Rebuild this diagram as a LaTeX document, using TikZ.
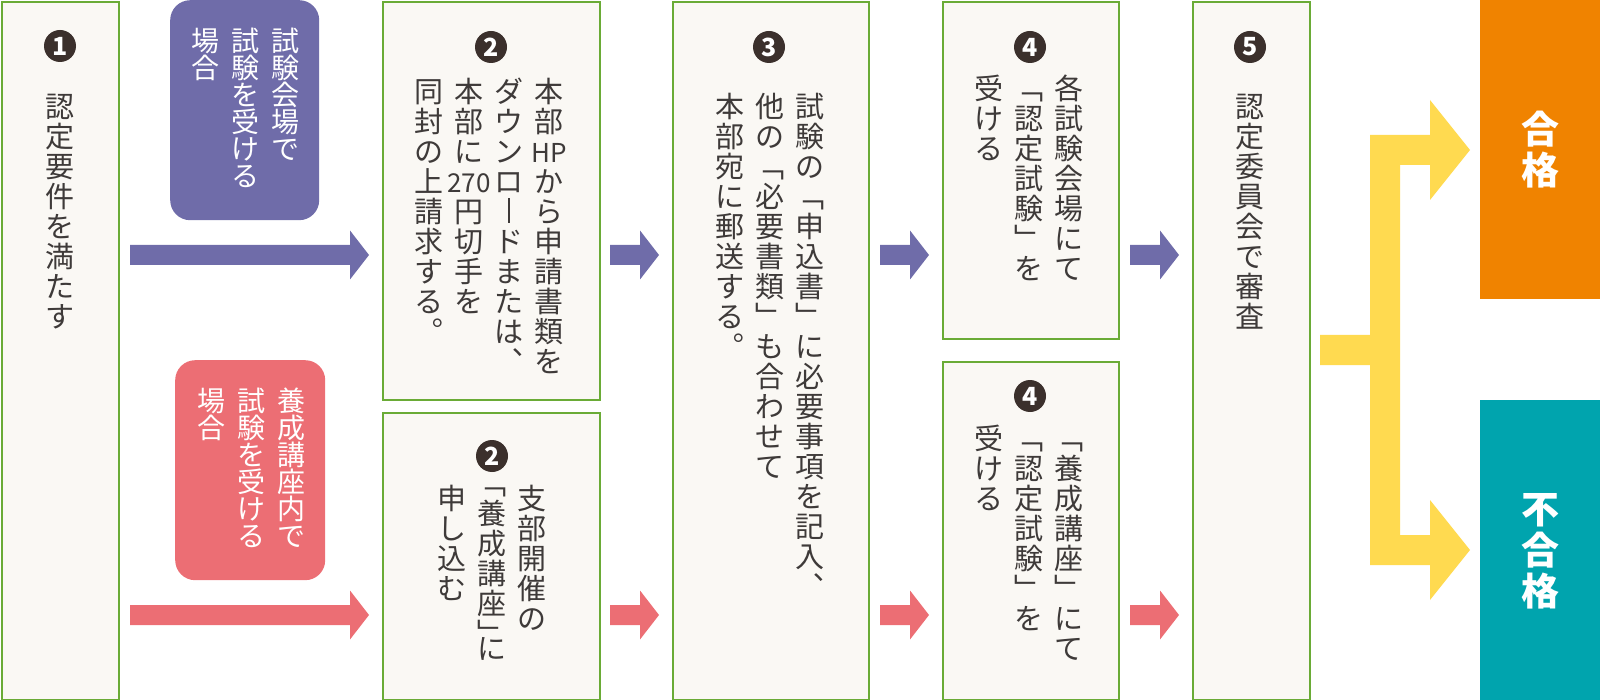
\documentclass[tikz,border=0pt]{standalone}
\usepackage{fontspec}
\newfontfamily\jp{Noto Sans CJK JP}
\usetikzlibrary{calc}
\definecolor{grn}{HTML}{6AAB36}
\definecolor{boxbg}{HTML}{FAF8F4}
\definecolor{purp}{HTML}{6F6CA9}
\definecolor{pnk}{HTML}{EC6E74}
\definecolor{ylw}{HTML}{FFDA50}
\definecolor{orng}{HTML}{F08300}
\definecolor{tealc}{HTML}{00A4AE}
\definecolor{txtc}{HTML}{3E3A39}
\definecolor{numc}{HTML}{3B302C}
\newlength\tpitch \setlength\tpitch{30pt}
\newlength\tchw \setlength\tchw{40pt}
\makeatletter
\def\tsq{\tsq@marker}
\def\tcol#1{\vtop{\baselineskip=\tpitch\lineskiplimit=-\maxdimen\lineskip=0pt\tcol@a#1\relax}}
\def\tcol@a#1{\ifx\relax#1\else\ifx\tsq#1\vskip-.5\tpitch\else\hbox to\tchw{\hss\vrule height .88em depth .12em width 0pt\relax#1\hss}\fi\expandafter\tcol@a\fi}
\makeatother
\newcommand\tcy[1]{{\fontsize{26}{26}\selectfont #1}}
\newcommand\vchoon{\hbox to 1em{\hss\vrule width .07em height .84em depth .02em\hss}}
\newcommand\vlq{\smash{\raise.5em\hbox{﹁}}}
\newcommand\blockarrow[3]{%
  \fill[#3] let \p1=(#1), \p2=(#2) in
   (\x1,\y1+10pt) -- (\x2-19pt,\y1+10pt) -- (\x2-19pt,\y1+24.5pt) -- (\x2,\y1) --
   (\x2-19pt,\y1-24.5pt) -- (\x2-19pt,\y1-10pt) -- (\x1,\y1-10pt) -- cycle;}
\begin{document}
\begin{tikzpicture}[x=1pt,y=-1pt,
  box/.style={draw=grn, line width=2.4pt, fill=boxbg, anchor=north west, inner sep=0pt},
  pill/.style={rounded corners=20pt, anchor=north west, inner sep=0pt},
  num/.style={circle, fill=numc, text=white, minimum size=32pt, inner sep=0pt,
    font=\jp\bfseries\fontsize{25}{25}\selectfont},
  tx/.style={inner sep=0pt, anchor=north, text=txtc, font=\jp\fontsize{29}{30}\selectfont},
  ptx/.style={inner sep=0pt, anchor=north, text=white, font=\jp\fontsize{28}{27}\selectfont,
    execute at begin node={\setlength\tpitch{27pt}}},
  res/.style={anchor=north west, inner sep=0pt, text=white,
    font=\jp\bfseries\fontsize{38}{41}\selectfont,
    execute at begin node={\setlength\tpitch{41pt}}}]
\useasboundingbox (0,0) rectangle (1600,700);
% boxes
\node[box, minimum width=117pt, minimum height=698pt] (b1) at (1,1) {};
\node[box, minimum width=217pt, minimum height=397.5pt] (b2a) at (382,1) {};
\node[box, minimum width=217pt, minimum height=287pt] (b2b) at (382,411.5) {};
\node[box, minimum width=196pt, minimum height=698pt] (b3) at (672,1) {};
\node[box, minimum width=176pt, minimum height=337pt] (b4a) at (942,1) {};
\node[box, minimum width=176pt, minimum height=338pt] (b4b) at (942,361) {};
\node[box, minimum width=117pt, minimum height=698pt] (b5) at (1192,1) {};
% pills
\node[pill, fill=purp, minimum width=149pt, minimum height=220pt] (pp) at (170,0) {};
\node[pill, fill=pnk, minimum width=150pt, minimum height=220pt] (pk) at (175,360) {};
% results
\node[res, fill=orng, minimum width=120pt, minimum height=299pt] (pass) at (1480,0) {\tcol{合格}};
\node[res, fill=tealc, minimum width=120pt, minimum height=300pt] (fail) at (1480,400) {\tcol{不合格}};
% numbers
\node[num] (n1) at (60,46) {1};
\node[num] (n2a) at (491,47) {2};
\node[num] (n2b) at (492,456) {2};
\node[num] (n3) at (769,47) {3};
\node[num] (n4a) at (1030,47) {4};
\node[num] (n4b) at (1030,396) {4};
\node[num] (n5) at (1250,47) {5};
% texts
\node[tx] (t1) at (59.5,91.5) {\tcol{認定要件を満たす}};
\node[tx] (t2a) at (489,76.5) {\tcol{同封の上請求する︒}\tcol{本部に{\tcy{270}}円切手を}\tcol{ダウンロ\vchoon ドまたは︑}\tcol{本部{\tcy{HP}}から申請書類を}};
\node[tx] (t2b) at (492,483.5) {\tcol{申し込む}\tcol{\vlq\tsq 養成講座﹂\tsq に}\tcol{支部開催の}};
\node[tx] (t3) at (770,91.5) {\tcol{本部宛に郵送する︒}\tcol{他の﹁必要書類﹂も合わせて}\tcol{試験の﹁申込書﹂に必要事項を記入︑}};
\node[tx] (t4a) at (1028.5,73.5) {\tcol{受ける}\tcol{﹁認定試験﹂を}\tcol{各試験会場にて}};
\node[tx] (t4b) at (1028.5,423.5) {\tcol{受ける}\tcol{﹁認定試験﹂を}\tcol{﹁養成講座﹂にて}};
\node[tx] (t5) at (1250,91.5) {\tcol{認定委員会で審査}};
\node[ptx] (tp) at (245,26.5) {\tcol{場合}\tcol{試験を受ける}\tcol{試験会場で}};
\node[ptx] (tk) at (251,386.5) {\tcol{場合}\tcol{試験を受ける}\tcol{養成講座内で}};
% arrows
\coordinate (p1s) at (130,255); \coordinate (p1e) at (369,255);
\coordinate (p2s) at (610,255); \coordinate (p2e) at (659,255);
\coordinate (p3s) at (880,255); \coordinate (p3e) at (929,255);
\coordinate (p4s) at (1130,255); \coordinate (p4e) at (1179,255);
\coordinate (k1s) at (130,615); \coordinate (k1e) at (369,615);
\coordinate (k2s) at (610,615); \coordinate (k2e) at (659,615);
\coordinate (k3s) at (880,615); \coordinate (k3e) at (929,615);
\coordinate (k4s) at (1130,615); \coordinate (k4e) at (1179,615);
\blockarrow{p1s}{p1e}{purp}
\blockarrow{p2s}{p2e}{purp}
\blockarrow{p3s}{p3e}{purp}
\blockarrow{p4s}{p4e}{purp}
\blockarrow{k1s}{k1e}{pnk}
\blockarrow{k2s}{k2e}{pnk}
\blockarrow{k3s}{k3e}{pnk}
\blockarrow{k4s}{k4e}{pnk}
% fork
\fill[ylw] (1320,335) -- (1370,335) -- (1370,135) -- (1430,135) -- (1430,100) -- (1470,150)
  -- (1430,200) -- (1430,165) -- (1400,165) -- (1400,535) -- (1430,535) -- (1430,500)
  -- (1470,550) -- (1430,600) -- (1430,565) -- (1370,565) -- (1370,365) -- (1320,365) -- cycle;
\end{tikzpicture}
\end{document}
